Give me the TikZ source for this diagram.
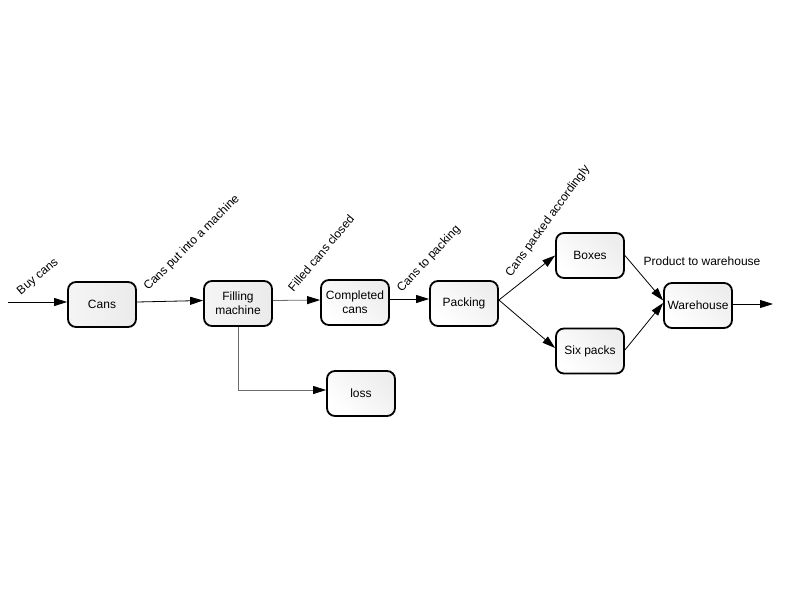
\documentclass[tikz,border=0pt]{standalone}
\usepackage{fontspec}
\setmainfont{Liberation Sans}
\usetikzlibrary{arrows.meta}
\begin{document}
\begin{tikzpicture}[x=1pt,y=-1pt,
  font=\fontsize{12}{14}\selectfont,
  proc/.style={draw=black, line width=1.8pt, rounded corners=8pt,
    minimum width=68pt, minimum height=45pt, align=center, inner sep=1pt,
    left color=white, right color=gray!14, shading angle=135},
  procgray/.style={proc, left color=gray!8, right color=gray!16},
  flow/.style={line width=0.8pt, -{Triangle[length=13pt,width=8pt,color=black]}},
  grayflow/.style={flow, draw=gray!85!black},
  lbl/.style={inner sep=0pt, anchor=center}
]
\useasboundingbox (0,0) rectangle (800,600);

\node[procgray] (cans) at (102,304.5) {Cans};
\node[procgray] (fill) at (238,303.5) {Filling\\machine};
\node[proc] (comp) at (355,302.5) {Completed\\cans};
\node[proc] (pack) at (464,303.5) {Packing};
\node[proc] (boxes) at (590,255.5) {Boxes};
\node[proc] (six) at (590,351) {Six packs};
\node[proc] (ware) at (698,305.5) {Warehouse};
\node[proc] (loss) at (361,393.5) {loss};

\coordinate (in) at (8,302);
\coordinate (out) at (773,304);
\coordinate (bend) at (238,390);

\draw[flow] (in) -- (in -| cans.west);
\draw[flow] ([yshift=2.5pt]cans.east) -- ([yshift=3pt]fill.west);
\draw[grayflow] ([yshift=3pt]fill.east) -- ([yshift=2.5pt]comp.west);
\draw[grayflow] (fill.south) -- (bend) -- (bend -| loss.west);
\draw[flow] ([yshift=3.5pt]comp.east) -- ([yshift=4.5pt]pack.west);
\draw[flow] ([yshift=3.5pt]pack.east) -- (boxes.west);
\draw[flow] ([yshift=3.5pt]pack.east) -- ([yshift=3pt]six.west);
\draw[flow] (boxes.east) -- ([yshift=5pt]ware.west);
\draw[flow] ([yshift=1pt]six.east) -- ([yshift=2.5pt]ware.west);
\draw[flow] ([yshift=1.5pt]ware.east) -- (out);

\node[lbl, rotate=40] (l1) at (38,277) {Buy cans};
\node[lbl, rotate=45] (l2) at (192,243) {Cans put into a machine};
\node[lbl, rotate=50] (l3) at (321,253) {Filled cans closed};
\node[lbl, rotate=47] (l4) at (429,259) {Cans to packing};
\node[lbl, rotate=54] (l5) at (548,221) {Cans packed accordingly};
\node[lbl] (l6) at (702,261) {Product to warehouse};
\end{tikzpicture}
\end{document}
